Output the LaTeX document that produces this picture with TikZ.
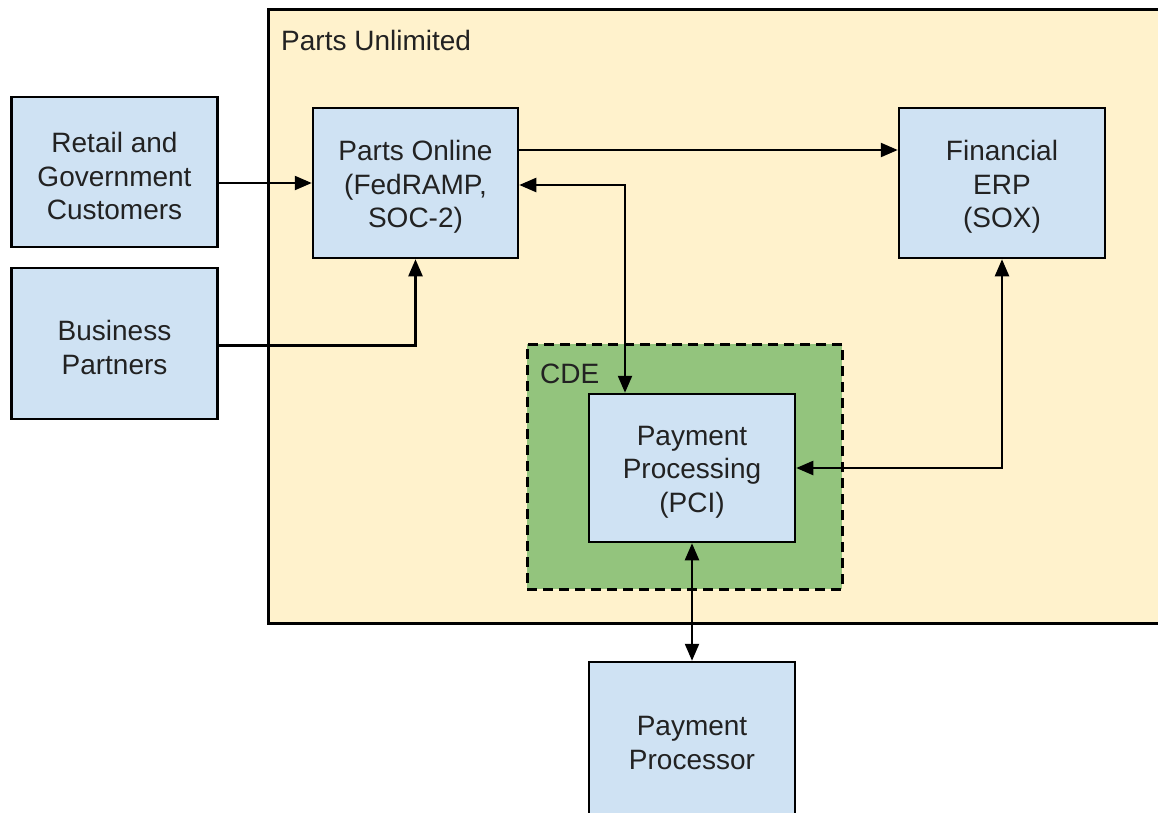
\documentclass[tikz,border=0pt]{standalone}
\usepackage{fontspec}
\setmainfont{Liberation Sans}
\usetikzlibrary{arrows.meta}
\definecolor{boxblue}{HTML}{CFE2F3}
\definecolor{outerfill}{HTML}{FFF2CC}
\definecolor{cdefill}{HTML}{93C47D}
\definecolor{txt}{HTML}{222222}
\begin{document}
\begin{tikzpicture}[x=1pt,y=-1pt,
  font=\fontsize{28}{33.5}\selectfont,
  box/.style={draw=black, line width=2.5pt, fill=boxblue, inner sep=0pt, minimum width=206pt},
  boxtext/.style={text=txt, align=center, inner sep=0pt, yshift=-4pt},
  tip/.tip={Triangle[length=17pt,width=14pt]},
  conn/.style={line width=2.3pt, -tip},
  bconn/.style={line width=2.3pt, tip-tip}]
\useasboundingbox (0,0) rectangle (1158,812);
% outer area
\node[draw=black, line width=2.5pt, fill=outerfill, anchor=north west, minimum width=910pt, minimum height=614pt, inner sep=0pt] (pu) at (267,8) {};
\node[anchor=base west, text=txt, inner sep=0pt] (pulabel) at (281,50) {Parts Unlimited};
% CDE
\node[draw=black, line width=2.5pt, dash pattern=on 10pt off 6pt, fill=cdefill, anchor=north west, minimum width=315pt, minimum height=245pt, inner sep=0pt] (cde) at (526,343) {};
\node[anchor=base west, text=txt, inner sep=0pt] (cdelabel) at (540,383) {CDE};
% boxes
\node[box, minimum height=150pt, label={[boxtext]center:Retail and\\Government\\Customers}] (retail) at (114.5,172) {};
\node[box, minimum height=151pt, label={[boxtext]center:Business\\Partners}] (partners) at (114.5,343.5) {};
\node[box, minimum height=150pt, minimum width=205pt, label={[boxtext]center:Parts Online\\(FedRAMP,\\SOC-2)}] (online) at (415.5,183) {};
\node[box, minimum height=150pt, label={[boxtext]center:Financial\\ERP\\(SOX)}] (erp) at (1002,183) {};
\node[box, minimum height=148pt, label={[boxtext]center:Payment\\Processing\\(PCI)}] (pp) at (692,468) {};
\node[box, minimum height=160pt] (proc) at (692,742) {};
\node[boxtext] (proctext) at (692,739) {Payment\\Processor};
% connectors
\draw[conn] (retail.east |- online.west) -- (online.west);
\draw[conn] ([yshift=-2pt]partners.east) -| (online.south);
\draw[conn] ([yshift=33pt]online.east) -- ([yshift=33pt]erp.west);
\draw[bconn] ([yshift=-2pt]online.east) -| ([xshift=-67pt]pp.north);
\draw[bconn] (erp.south) |- (pp.east);
\draw[bconn] (pp.south) -- (proc.north);
\end{tikzpicture}
\end{document}
